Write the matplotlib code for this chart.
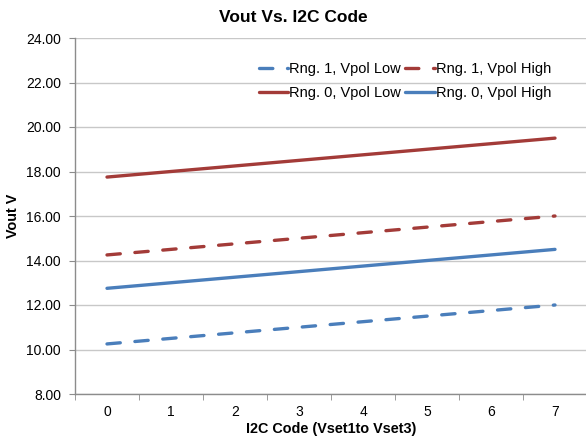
import matplotlib
matplotlib.use("Agg")
import matplotlib.pyplot as plt

# Data
codes = [0, 1, 2, 3, 4, 5, 6, 7]
rng1_vpol_low = [10.25, 10.50, 10.75, 11.00, 11.25, 11.50, 11.75, 12.00]
rng1_vpol_high = [14.25, 14.50, 14.75, 15.00, 15.25, 15.50, 15.75, 16.00]
rng0_vpol_low = [17.75, 18.00, 18.25, 18.50, 18.75, 19.00, 19.25, 19.50]
rng0_vpol_high = [12.75, 13.00, 13.25, 13.50, 13.75, 14.00, 14.25, 14.50]
y_ticks = [8, 10, 12, 14, 16, 18, 20, 22, 24]

blue = "#4A7EBB"
red = "#A33B38"
grid_grey = "#C8C8C8"
axis_grey = "#8C8C8C"

plt.rcParams["font.family"] = ["Liberation Sans", "DejaVu Sans"]

fig = plt.figure(figsize=(5.86, 4.38), dpi=100)
ax = fig.add_axes([75 / 586, 44 / 438, 512 / 586, 356 / 438])

lw = 2.4
dash = (4.0, 4.4)
l1, = ax.plot(codes, rng1_vpol_low, color=blue, lw=lw, dashes=dash,
              dash_capstyle="round", label="Rng. 1, Vpol Low")
l2, = ax.plot(codes, rng1_vpol_high, color=red, lw=lw, dashes=dash,
              dash_capstyle="round", label="Rng. 1, Vpol High")
l3, = ax.plot(codes, rng0_vpol_low, color=red, lw=lw,
              solid_capstyle="round", label="Rng. 0, Vpol Low")
l4, = ax.plot(codes, rng0_vpol_high, color=blue, lw=lw,
              solid_capstyle="round", label="Rng. 0, Vpol High")

ax.set_xlim(-0.5, 7.5)
ax.set_ylim(8, 24)
ax.set_yticks(y_ticks)
ax.set_yticklabels([f"{v:.2f}" for v in y_ticks])
ax.set_xticks(codes)
ax.set_xticks([c - 0.5 for c in codes] + [7.5], minor=True)

ax.yaxis.grid(True, color=grid_grey, lw=1)
ax.set_axisbelow(True)
for side in ["top", "right"]:
    ax.spines[side].set_visible(False)
for side in ["left", "bottom"]:
    ax.spines[side].set_color(axis_grey)
    ax.spines[side].set_linewidth(1)

ax.tick_params(axis="y", length=4, color=axis_grey, labelsize=10, pad=6)
ax.tick_params(axis="x", which="major", length=0, labelsize=10, pad=8)
ax.tick_params(axis="x", which="minor", length=4, color=axis_grey)

fig.suptitle("Vout Vs. I2C Code", x=0.5, y=0.978, fontsize=12.5,
             fontweight="bold")
ax.set_xlabel("I2C Code (Vset1to Vset3)", fontsize=10.4, fontweight="bold",
              labelpad=2)
fig.text(13 / 586, 0.5 * (44 + 400) / 438, "Vout V", rotation=90,
         ha="center", va="center", fontsize=10.4, fontweight="bold")

# ncol fills column-wise, so order handles to give the reference rows
ax.legend(handles=[l1, l3, l2, l4], ncol=2, frameon=False, fontsize=10.5,
          loc="upper right", bbox_to_anchor=(0.942, 0.95),
          handlelength=2.0, handletextpad=0.1, columnspacing=0.3,
          labelspacing=0.7, borderaxespad=0)

fig.savefig("out.png", dpi=100)
